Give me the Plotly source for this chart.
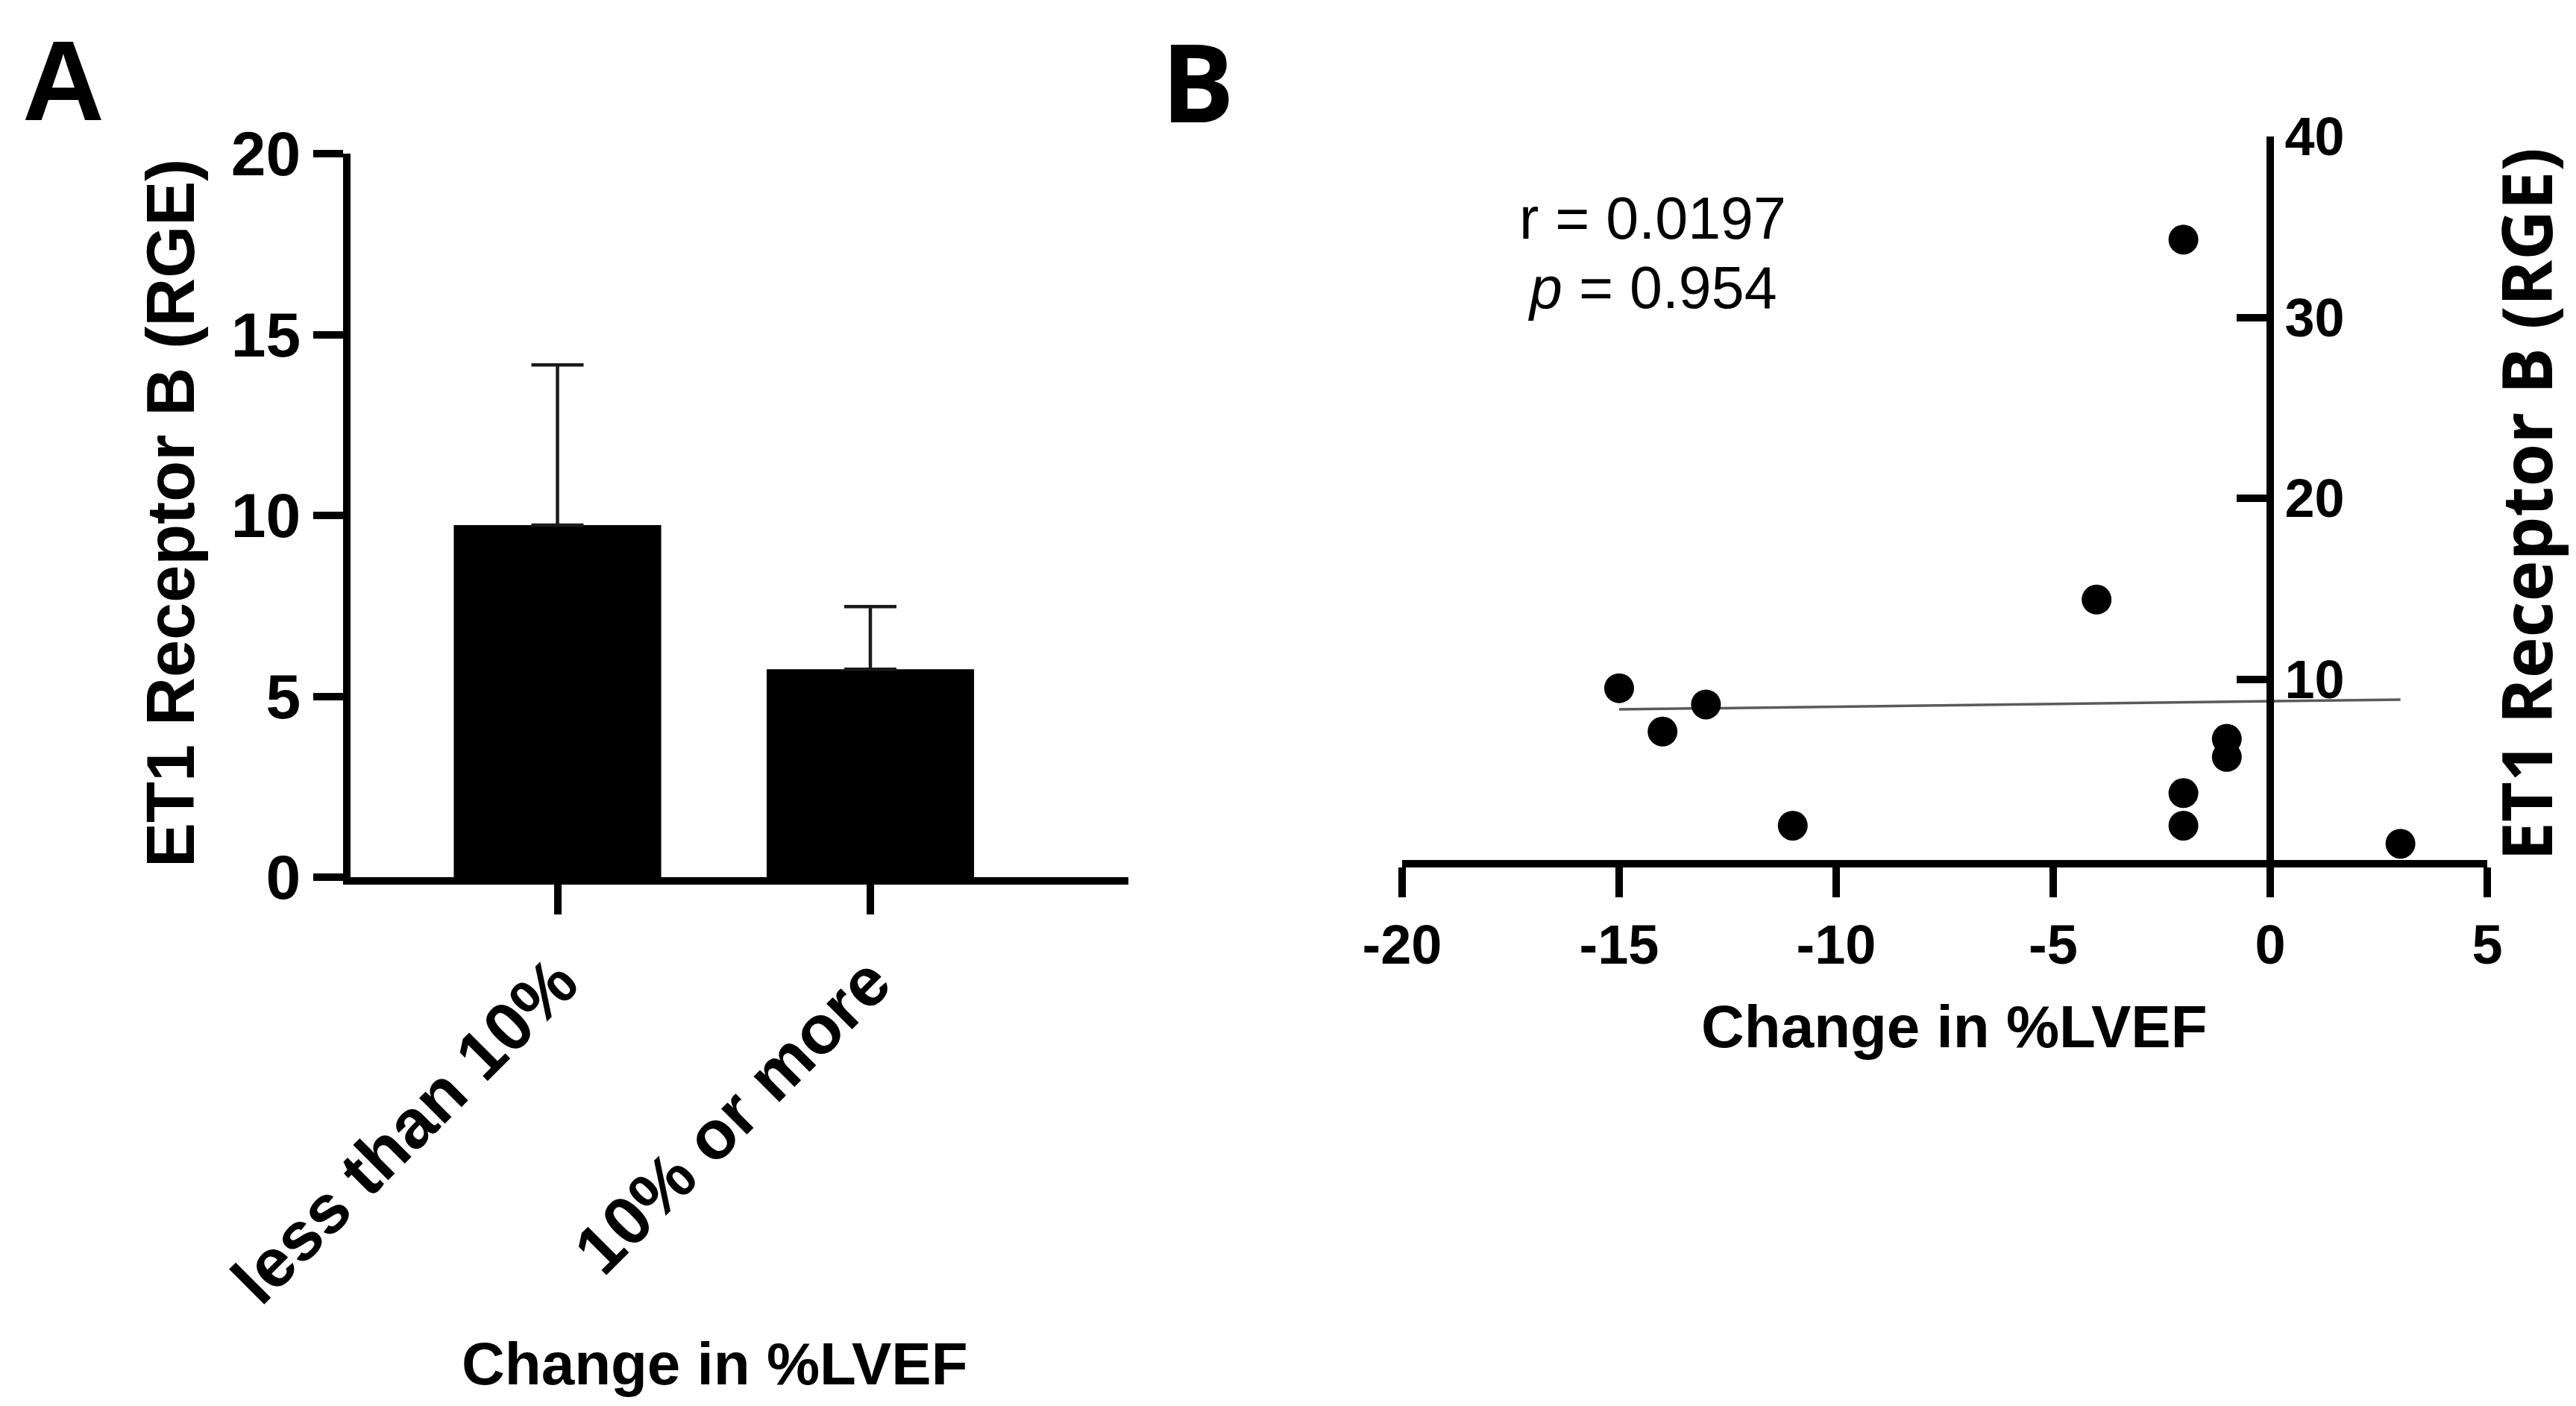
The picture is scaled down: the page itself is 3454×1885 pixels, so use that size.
import numpy as np
import plotly.graph_objects as go

# ---- Panel A data ----
categories = ["less than 10%", "10% or more"]
bar_means = [9.73, 5.75]
bar_sem = [4.43, 1.73]

# ---- Panel B data ----
lvef_change = [-15, -14, -13, -11, -4, -2, -2, -2, -1, -1, 3]
et1_rge = [9.5, 7.1, 8.6, 1.9, 14.4, 34.3, 3.7, 1.9, 6.7, 5.7, 0.9]
a_yticks = [0, 5, 10, 15, 20]
b_xticks = [-20, -15, -10, -5, 0, 5]
b_xticklabels = ["-20", "-15", "-10", "-5", "0", "5"]
b_yticks = [10, 20, 30, 40]

W, H = 3454, 1885
FONT = "Liberation Sans"
SANS2 = "Open Sans"

fig = go.Figure()

fig.add_trace(go.Bar(
    x=categories, y=bar_means, width=0.663,
    marker=dict(color="black", line=dict(width=0)),
    error_y=dict(type="data", symmetric=False, array=bar_sem,
                 arrayminus=[0] * len(bar_sem), color="#1a1a1a",
                 thickness=4.5, width=35),
    xaxis="x", yaxis="y", showlegend=False))

# regression line
slope, intercept = np.polyfit(lvef_change, et1_rge, 1)
fx = [min(lvef_change), max(lvef_change)]
fy = [slope * v + intercept for v in fx]
fig.add_trace(go.Scatter(x=fx, y=fy, mode="lines",
                         line=dict(color="#5a5a5a", width=3.5),
                         xaxis="x2", yaxis="y2", showlegend=False))
fig.add_trace(go.Scatter(x=lvef_change, y=et1_rge, mode="markers",
                         marker=dict(color="black", size=40),
                         xaxis="x2", yaxis="y2", showlegend=False,
                         cliponaxis=False))

# pixel geometry of the panels
a_left, a_right, a_bottom, a_top = 462, 1505, 1168, 198
b_left, b_right, b_bottom, b_top = 1872, 3327, 1145, 175
xa_dom = [a_left / W, a_right / W]
ya_dom = [1 - a_bottom / H, 1 - a_top / H]
xb_dom = [b_left / W, b_right / W]
yb_dom = [1 - b_bottom / H, 1 - b_top / H]
yb_pos = xb_dom[0] + (0 - (-20)) / 25 * (xb_dom[1] - xb_dom[0])

# category range so bars sit where the reference shows them
c0, c1 = 739.5, 1159.0
sp = c1 - c0
xa_range = [(a_left - c0) / sp, (a_right - c0) / sp]

LW = 10
fig.update_layout(
    template="none",
    width=W, height=H, margin=dict(l=0, r=0, t=0, b=0, pad=0),
    paper_bgcolor="white", plot_bgcolor="white",
    xaxis=dict(domain=xa_dom, anchor="y", type="category", range=xa_range,
               automargin=False,
               showline=True, linecolor="black", linewidth=LW,
               ticks="outside", ticklen=40, tickwidth=LW, tickcolor="black",
               tickangle=-45, tickfont=dict(family=FONT, size=92, color="black", weight="bold"),
               showgrid=False, zeroline=False),
    yaxis=dict(domain=ya_dom, anchor="x", range=[0, 20], tickvals=a_yticks,
               automargin=False,
               showline=True, linecolor="black", linewidth=LW,
               ticks="outside", ticklen=40, tickwidth=LW, tickcolor="black",
               tickfont=dict(family=FONT, size=84, color="black", weight="bold"),
               showgrid=False, zeroline=False),
    xaxis2=dict(domain=xb_dom, anchor="y2", range=[-20, 5], tickvals=b_xticks,
                ticktext=b_xticklabels, automargin=False,
                showline=True, linecolor="black", linewidth=LW,
                ticks="outside", ticklen=40, tickwidth=LW, tickcolor="black",
                tickfont=dict(family=FONT, size=74, color="black", weight="bold"),
                showgrid=False, zeroline=False),
    yaxis2=dict(domain=yb_dom, anchor="free", position=yb_pos, side="right",
                range=[0, 40], tickvals=b_yticks, automargin=False,
                showline=True, linecolor="black", linewidth=LW,
                ticks="inside", ticklen=40, tickwidth=LW, tickcolor="black",
                tickfont=dict(family=FONT, size=72, color="black", weight="bold"),
                showgrid=False, zeroline=False),
)

ann = [
    dict(text="<b>A</b>", x=77 / W, y=1 - 100 / H, font=dict(family=FONT, size=152)),
    dict(text="<b>B</b>", x=1598 / W, y=1 - 100 / H, font=dict(family=SANS2, size=146)),
    dict(text="<b>ET1 Receptor B (RGE)</b>", x=221 / W, y=1 - 680 / H, textangle=-90,
         font=dict(family=FONT, size=90)),
    dict(text="<b>Change in %LVEF</b>", x=950 / W, y=1 - 1820 / H,
         font=dict(family=FONT, size=80)),
    dict(text="<b>Change in %LVEF</b>", x=2612 / W, y=1 - 1368 / H,
         font=dict(family=FONT, size=80)),
    dict(text="<b>ET1 Receptor B (RGE)</b>", x=3378 / W, y=1 - 668 / H, textangle=-90,
         font=dict(family=SANS2, size=93)),
    dict(text="r = 0.0197", x=2208 / W, y=1 - 284 / H, font=dict(family=FONT, size=79)),
    dict(text="<i>p</i> = 0.954", x=2208 / W, y=1 - 378 / H, font=dict(family=FONT, size=79)),
]
for a in ann:
    a.update(xref="paper", yref="paper", showarrow=False, xanchor="center", yanchor="middle")
    a["font"]["color"] = "black"
fig.update_layout(annotations=ann)

fig.write_html("out.html")
